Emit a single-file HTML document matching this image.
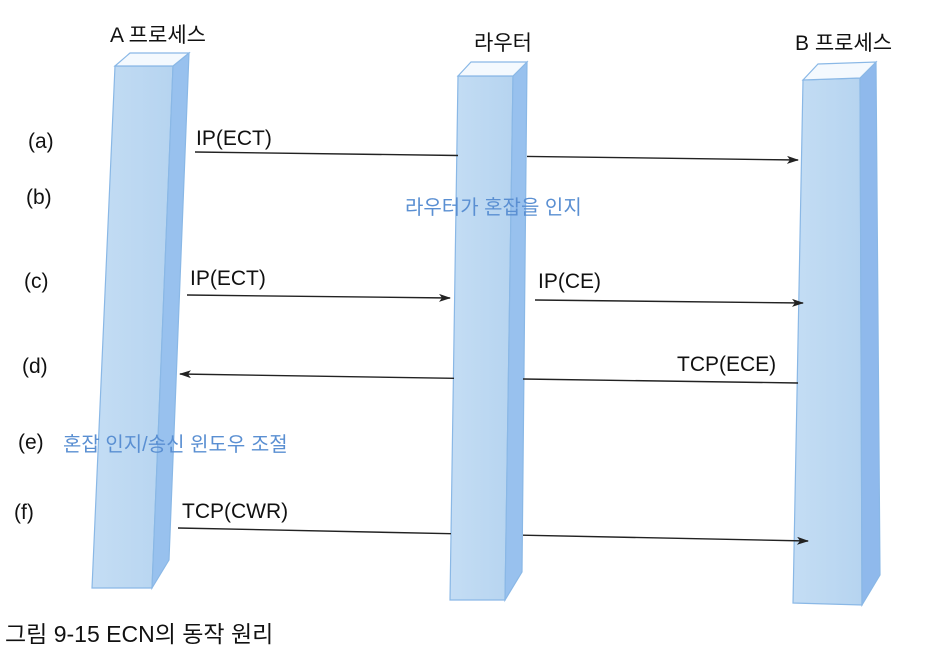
<!DOCTYPE html>
<html><head><meta charset="utf-8"><style>
html,body{margin:0;padding:0;background:#fff;}
svg{display:block;}
text{font-family:"Liberation Sans","Noto Sans CJK KR",sans-serif;}
</style></head><body>
<svg width="925" height="655" viewBox="0 0 925 655" xmlns="http://www.w3.org/2000/svg">
<defs>
<marker id="ah" markerWidth="12" markerHeight="8" refX="11" refY="4" orient="auto" markerUnits="userSpaceOnUse">
<path d="M0,0 L12,4 L0,8 L3,4 z" fill="#222"/></marker>
<linearGradient id="fr" x1="0" x2="1" y1="0" y2="0"><stop offset="0" stop-color="#c4ddf4"/><stop offset="1" stop-color="#b6d4f0"/></linearGradient>
</defs>
<rect width="925" height="655" fill="#fff"/>
<g stroke="#8ab8e6" stroke-width="1.2">
<polygon points="115,66 173,66 152,588 92,588" fill="url(#fr)"/>
<polygon points="173,66 189,53 169,560 152,588" fill="#98c1ee"/>
<polygon points="115,66 130,53 189,53 173,66" fill="#f4f9fe"/>
<polygon points="458,76 513,76 505,600 450,600" fill="url(#fr)"/>
<polygon points="513,76 527,62 522,572 505,600" fill="#98c1ee"/>
<polygon points="458,76 471,62 527,62 513,76" fill="#f4f9fe"/>
<polygon points="803,80 860,78 862,605 793,603" fill="url(#fr)"/>
<polygon points="860,78 876,62 880,575 862,605" fill="#8fb9ec"/>
<polygon points="803,80 818,64 876,62 860,78" fill="#f4f9fe"/>
</g>
<g stroke="#222" stroke-width="1.4" fill="none">
<line x1="195" y1="152" x2="458" y2="155.5"/>
<line x1="527" y1="156.4" x2="798" y2="160" marker-end="url(#ah)"/>
<line x1="187" y1="295" x2="450" y2="298" marker-end="url(#ah)"/>
<line x1="535" y1="300" x2="803" y2="303" marker-end="url(#ah)"/>
<line x1="798" y1="383" x2="523" y2="379" />
<line x1="454" y1="378.3" x2="180" y2="374" marker-end="url(#ah)"/>
<line x1="178" y1="528" x2="451" y2="533.7"/>
<line x1="523" y1="535.2" x2="808" y2="541" marker-end="url(#ah)"/>
</g>
<g fill="#111" font-size="21">
<text x="110" y="42">A 프로세스</text>
<text x="474" y="50">라우터</text>
<text x="795" y="50">B 프로세스</text>
<text x="28" y="148">(a)</text>
<text x="26" y="204">(b)</text>
<text x="24" y="288">(c)</text>
<text x="22" y="373">(d)</text>
<text x="18" y="449">(e)</text>
<text x="14" y="519">(f)</text>
<text x="196" y="145">IP(ECT)</text>
<text x="190" y="285">IP(ECT)</text>
<text x="538" y="288">IP(CE)</text>
<text x="677" y="371">TCP(ECE)</text>
<text x="182" y="518">TCP(CWR)</text>
</g>
<g fill="#5a8fd2" font-size="20">
<text x="405" y="214">라우터가 혼잡을 인지</text>
<text x="63" y="451">혼잡 인지/송신 윈도우 조절</text>
</g>
<text x="5" y="642" font-size="23" fill="#111">그림 9-15  ECN의 동작 원리</text>
</svg>
</body></html>
